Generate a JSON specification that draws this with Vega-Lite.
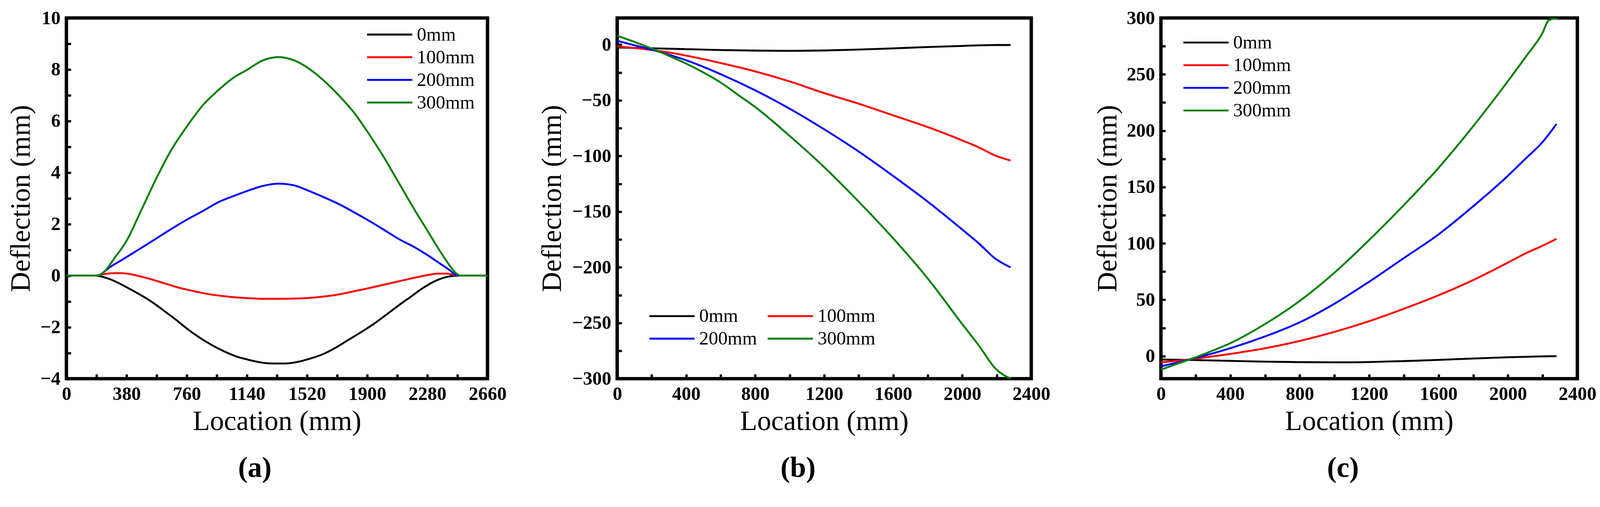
{
  "$schema": "https://vega.github.io/schema/vega-lite/v6.json",
  "autosize": {"type": "pad"},
  "padding": {"left": 13, "top": 17, "right": 10, "bottom": 10},
  "background": "white",
  "bounds": "flush",
  "align": "none",
  "spacing": 332,
  "datasets": {
    "a": [
      {"Location": 0, "Deflection": 0, "Load": "0mm"},
      {"Location": 100, "Deflection": 0, "Load": "0mm"},
      {"Location": 180, "Deflection": 0, "Load": "0mm"},
      {"Location": 230, "Deflection": -0.05, "Load": "0mm"},
      {"Location": 300, "Deflection": -0.2, "Load": "0mm"},
      {"Location": 380, "Deflection": -0.45, "Load": "0mm"},
      {"Location": 460, "Deflection": -0.72, "Load": "0mm"},
      {"Location": 540, "Deflection": -1.02, "Load": "0mm"},
      {"Location": 620, "Deflection": -1.38, "Load": "0mm"},
      {"Location": 700, "Deflection": -1.75, "Load": "0mm"},
      {"Location": 760, "Deflection": -2.05, "Load": "0mm"},
      {"Location": 840, "Deflection": -2.4, "Load": "0mm"},
      {"Location": 920, "Deflection": -2.7, "Load": "0mm"},
      {"Location": 1000, "Deflection": -2.95, "Load": "0mm"},
      {"Location": 1080, "Deflection": -3.15, "Load": "0mm"},
      {"Location": 1140, "Deflection": -3.25, "Load": "0mm"},
      {"Location": 1220, "Deflection": -3.36, "Load": "0mm"},
      {"Location": 1300, "Deflection": -3.41, "Load": "0mm"},
      {"Location": 1380, "Deflection": -3.41, "Load": "0mm"},
      {"Location": 1460, "Deflection": -3.35, "Load": "0mm"},
      {"Location": 1540, "Deflection": -3.22, "Load": "0mm"},
      {"Location": 1620, "Deflection": -3.05, "Load": "0mm"},
      {"Location": 1700, "Deflection": -2.8, "Load": "0mm"},
      {"Location": 1780, "Deflection": -2.5, "Load": "0mm"},
      {"Location": 1860, "Deflection": -2.2, "Load": "0mm"},
      {"Location": 1940, "Deflection": -1.88, "Load": "0mm"},
      {"Location": 2020, "Deflection": -1.52, "Load": "0mm"},
      {"Location": 2100, "Deflection": -1.15, "Load": "0mm"},
      {"Location": 2180, "Deflection": -0.8, "Load": "0mm"},
      {"Location": 2260, "Deflection": -0.45, "Load": "0mm"},
      {"Location": 2340, "Deflection": -0.18, "Load": "0mm"},
      {"Location": 2420, "Deflection": -0.03, "Load": "0mm"},
      {"Location": 2480, "Deflection": 0, "Load": "0mm"},
      {"Location": 2560, "Deflection": 0, "Load": "0mm"},
      {"Location": 2660, "Deflection": 0, "Load": "0mm"},
      {"Location": 0, "Deflection": 0, "Load": "100mm"},
      {"Location": 180, "Deflection": 0, "Load": "100mm"},
      {"Location": 220, "Deflection": 0.04, "Load": "100mm"},
      {"Location": 280, "Deflection": 0.09, "Load": "100mm"},
      {"Location": 340, "Deflection": 0.1, "Load": "100mm"},
      {"Location": 400, "Deflection": 0.06, "Load": "100mm"},
      {"Location": 460, "Deflection": -0.02, "Load": "100mm"},
      {"Location": 540, "Deflection": -0.15, "Load": "100mm"},
      {"Location": 620, "Deflection": -0.3, "Load": "100mm"},
      {"Location": 700, "Deflection": -0.45, "Load": "100mm"},
      {"Location": 760, "Deflection": -0.54, "Load": "100mm"},
      {"Location": 840, "Deflection": -0.65, "Load": "100mm"},
      {"Location": 920, "Deflection": -0.74, "Load": "100mm"},
      {"Location": 1000, "Deflection": -0.8, "Load": "100mm"},
      {"Location": 1080, "Deflection": -0.85, "Load": "100mm"},
      {"Location": 1140, "Deflection": -0.87, "Load": "100mm"},
      {"Location": 1240, "Deflection": -0.9, "Load": "100mm"},
      {"Location": 1340, "Deflection": -0.9, "Load": "100mm"},
      {"Location": 1440, "Deflection": -0.89, "Load": "100mm"},
      {"Location": 1520, "Deflection": -0.87, "Load": "100mm"},
      {"Location": 1600, "Deflection": -0.83, "Load": "100mm"},
      {"Location": 1700, "Deflection": -0.75, "Load": "100mm"},
      {"Location": 1800, "Deflection": -0.63, "Load": "100mm"},
      {"Location": 1900, "Deflection": -0.5, "Load": "100mm"},
      {"Location": 2000, "Deflection": -0.36, "Load": "100mm"},
      {"Location": 2100, "Deflection": -0.22, "Load": "100mm"},
      {"Location": 2200, "Deflection": -0.08, "Load": "100mm"},
      {"Location": 2280, "Deflection": 0.02, "Load": "100mm"},
      {"Location": 2350, "Deflection": 0.08, "Load": "100mm"},
      {"Location": 2400, "Deflection": 0.08, "Load": "100mm"},
      {"Location": 2440, "Deflection": 0.04, "Load": "100mm"},
      {"Location": 2480, "Deflection": 0, "Load": "100mm"},
      {"Location": 2660, "Deflection": 0, "Load": "100mm"},
      {"Location": 0, "Deflection": 0, "Load": "200mm"},
      {"Location": 190, "Deflection": 0, "Load": "200mm"},
      {"Location": 280, "Deflection": 0.35, "Load": "200mm"},
      {"Location": 380, "Deflection": 0.72, "Load": "200mm"},
      {"Location": 480, "Deflection": 1.1, "Load": "200mm"},
      {"Location": 570, "Deflection": 1.45, "Load": "200mm"},
      {"Location": 660, "Deflection": 1.8, "Load": "200mm"},
      {"Location": 760, "Deflection": 2.17, "Load": "200mm"},
      {"Location": 860, "Deflection": 2.5, "Load": "200mm"},
      {"Location": 960, "Deflection": 2.85, "Load": "200mm"},
      {"Location": 1060, "Deflection": 3.1, "Load": "200mm"},
      {"Location": 1140, "Deflection": 3.28, "Load": "200mm"},
      {"Location": 1240, "Deflection": 3.48, "Load": "200mm"},
      {"Location": 1340, "Deflection": 3.57, "Load": "200mm"},
      {"Location": 1440, "Deflection": 3.5, "Load": "200mm"},
      {"Location": 1520, "Deflection": 3.32, "Load": "200mm"},
      {"Location": 1620, "Deflection": 3.06, "Load": "200mm"},
      {"Location": 1720, "Deflection": 2.78, "Load": "200mm"},
      {"Location": 1820, "Deflection": 2.45, "Load": "200mm"},
      {"Location": 1900, "Deflection": 2.17, "Load": "200mm"},
      {"Location": 2000, "Deflection": 1.8, "Load": "200mm"},
      {"Location": 2100, "Deflection": 1.42, "Load": "200mm"},
      {"Location": 2200, "Deflection": 1.1, "Load": "200mm"},
      {"Location": 2280, "Deflection": 0.8, "Load": "200mm"},
      {"Location": 2360, "Deflection": 0.47, "Load": "200mm"},
      {"Location": 2420, "Deflection": 0.22, "Load": "200mm"},
      {"Location": 2470, "Deflection": 0, "Load": "200mm"},
      {"Location": 2660, "Deflection": 0, "Load": "200mm"},
      {"Location": 0, "Deflection": 0, "Load": "300mm"},
      {"Location": 190, "Deflection": 0, "Load": "300mm"},
      {"Location": 220, "Deflection": 0.05, "Load": "300mm"},
      {"Location": 260, "Deflection": 0.3, "Load": "300mm"},
      {"Location": 300, "Deflection": 0.65, "Load": "300mm"},
      {"Location": 380, "Deflection": 1.35, "Load": "300mm"},
      {"Location": 470, "Deflection": 2.5, "Load": "300mm"},
      {"Location": 570, "Deflection": 3.8, "Load": "300mm"},
      {"Location": 660, "Deflection": 4.85, "Load": "300mm"},
      {"Location": 760, "Deflection": 5.78, "Load": "300mm"},
      {"Location": 860, "Deflection": 6.6, "Load": "300mm"},
      {"Location": 960, "Deflection": 7.2, "Load": "300mm"},
      {"Location": 1060, "Deflection": 7.7, "Load": "300mm"},
      {"Location": 1140, "Deflection": 7.98, "Load": "300mm"},
      {"Location": 1240, "Deflection": 8.35, "Load": "300mm"},
      {"Location": 1340, "Deflection": 8.48, "Load": "300mm"},
      {"Location": 1440, "Deflection": 8.35, "Load": "300mm"},
      {"Location": 1540, "Deflection": 8.0, "Load": "300mm"},
      {"Location": 1620, "Deflection": 7.6, "Load": "300mm"},
      {"Location": 1720, "Deflection": 7.0, "Load": "300mm"},
      {"Location": 1820, "Deflection": 6.3, "Load": "300mm"},
      {"Location": 1900, "Deflection": 5.6, "Load": "300mm"},
      {"Location": 2000, "Deflection": 4.65, "Load": "300mm"},
      {"Location": 2100, "Deflection": 3.6, "Load": "300mm"},
      {"Location": 2200, "Deflection": 2.55, "Load": "300mm"},
      {"Location": 2280, "Deflection": 1.75, "Load": "300mm"},
      {"Location": 2360, "Deflection": 0.95, "Load": "300mm"},
      {"Location": 2420, "Deflection": 0.4, "Load": "300mm"},
      {"Location": 2460, "Deflection": 0.1, "Load": "300mm"},
      {"Location": 2490, "Deflection": 0, "Load": "300mm"},
      {"Location": 2660, "Deflection": 0, "Load": "300mm"}
    ],
    "b": [
      {"Location": 0, "Deflection": -2.5, "Load": "0mm"},
      {"Location": 200, "Deflection": -3.2, "Load": "0mm"},
      {"Location": 400, "Deflection": -4, "Load": "0mm"},
      {"Location": 600, "Deflection": -4.8, "Load": "0mm"},
      {"Location": 800, "Deflection": -5.3, "Load": "0mm"},
      {"Location": 1000, "Deflection": -5.5, "Load": "0mm"},
      {"Location": 1200, "Deflection": -5.2, "Load": "0mm"},
      {"Location": 1400, "Deflection": -4.4, "Load": "0mm"},
      {"Location": 1600, "Deflection": -3.3, "Load": "0mm"},
      {"Location": 1800, "Deflection": -2.1, "Load": "0mm"},
      {"Location": 2000, "Deflection": -1.1, "Load": "0mm"},
      {"Location": 2200, "Deflection": -0.3, "Load": "0mm"},
      {"Location": 2280, "Deflection": -0.3, "Load": "0mm"},
      {"Location": 0, "Deflection": -1.5, "Load": "100mm"},
      {"Location": 100, "Deflection": -3, "Load": "100mm"},
      {"Location": 200, "Deflection": -4.8, "Load": "100mm"},
      {"Location": 300, "Deflection": -7, "Load": "100mm"},
      {"Location": 400, "Deflection": -9.8, "Load": "100mm"},
      {"Location": 600, "Deflection": -16.5, "Load": "100mm"},
      {"Location": 800, "Deflection": -24, "Load": "100mm"},
      {"Location": 1000, "Deflection": -33, "Load": "100mm"},
      {"Location": 1200, "Deflection": -43.5, "Load": "100mm"},
      {"Location": 1400, "Deflection": -53, "Load": "100mm"},
      {"Location": 1600, "Deflection": -63.5, "Load": "100mm"},
      {"Location": 1800, "Deflection": -74, "Load": "100mm"},
      {"Location": 2000, "Deflection": -86, "Load": "100mm"},
      {"Location": 2100, "Deflection": -92.5, "Load": "100mm"},
      {"Location": 2190, "Deflection": -99.5, "Load": "100mm"},
      {"Location": 2280, "Deflection": -104, "Load": "100mm"},
      {"Location": 0, "Deflection": 3.5, "Load": "200mm"},
      {"Location": 100, "Deflection": -0.5, "Load": "200mm"},
      {"Location": 200, "Deflection": -4.5, "Load": "200mm"},
      {"Location": 300, "Deflection": -9, "Load": "200mm"},
      {"Location": 400, "Deflection": -14, "Load": "200mm"},
      {"Location": 600, "Deflection": -26.5, "Load": "200mm"},
      {"Location": 800, "Deflection": -41, "Load": "200mm"},
      {"Location": 1000, "Deflection": -57.5, "Load": "200mm"},
      {"Location": 1200, "Deflection": -76, "Load": "200mm"},
      {"Location": 1400, "Deflection": -96, "Load": "200mm"},
      {"Location": 1600, "Deflection": -118, "Load": "200mm"},
      {"Location": 1800, "Deflection": -141, "Load": "200mm"},
      {"Location": 2000, "Deflection": -166, "Load": "200mm"},
      {"Location": 2100, "Deflection": -179, "Load": "200mm"},
      {"Location": 2190, "Deflection": -192, "Load": "200mm"},
      {"Location": 2280, "Deflection": -200, "Load": "200mm"},
      {"Location": 0, "Deflection": 8, "Load": "300mm"},
      {"Location": 100, "Deflection": 2.5, "Load": "300mm"},
      {"Location": 200, "Deflection": -3.5, "Load": "300mm"},
      {"Location": 300, "Deflection": -10, "Load": "300mm"},
      {"Location": 400, "Deflection": -17, "Load": "300mm"},
      {"Location": 500, "Deflection": -25, "Load": "300mm"},
      {"Location": 600, "Deflection": -34, "Load": "300mm"},
      {"Location": 700, "Deflection": -45, "Load": "300mm"},
      {"Location": 800, "Deflection": -56, "Load": "300mm"},
      {"Location": 1000, "Deflection": -82, "Load": "300mm"},
      {"Location": 1200, "Deflection": -110, "Load": "300mm"},
      {"Location": 1400, "Deflection": -141, "Load": "300mm"},
      {"Location": 1600, "Deflection": -174, "Load": "300mm"},
      {"Location": 1800, "Deflection": -210, "Load": "300mm"},
      {"Location": 2000, "Deflection": -251, "Load": "300mm"},
      {"Location": 2100, "Deflection": -271, "Load": "300mm"},
      {"Location": 2190, "Deflection": -290.5, "Load": "300mm"},
      {"Location": 2280, "Deflection": -300, "Load": "300mm"}
    ],
    "c": [
      {"Location": 0, "Deflection": -3, "Load": "0mm"},
      {"Location": 200, "Deflection": -3.5, "Load": "0mm"},
      {"Location": 400, "Deflection": -4.2, "Load": "0mm"},
      {"Location": 600, "Deflection": -4.9, "Load": "0mm"},
      {"Location": 800, "Deflection": -5.3, "Load": "0mm"},
      {"Location": 1000, "Deflection": -5.5, "Load": "0mm"},
      {"Location": 1200, "Deflection": -5.2, "Load": "0mm"},
      {"Location": 1400, "Deflection": -4.4, "Load": "0mm"},
      {"Location": 1600, "Deflection": -3.3, "Load": "0mm"},
      {"Location": 1800, "Deflection": -2.1, "Load": "0mm"},
      {"Location": 2000, "Deflection": -1, "Load": "0mm"},
      {"Location": 2200, "Deflection": -0.2, "Load": "0mm"},
      {"Location": 2280, "Deflection": 0, "Load": "0mm"},
      {"Location": 0, "Deflection": -5.5, "Load": "100mm"},
      {"Location": 100, "Deflection": -4, "Load": "100mm"},
      {"Location": 200, "Deflection": -2.3, "Load": "100mm"},
      {"Location": 300, "Deflection": -0.2, "Load": "100mm"},
      {"Location": 400, "Deflection": 2, "Load": "100mm"},
      {"Location": 600, "Deflection": 7, "Load": "100mm"},
      {"Location": 800, "Deflection": 13.5, "Load": "100mm"},
      {"Location": 1000, "Deflection": 21.5, "Load": "100mm"},
      {"Location": 1200, "Deflection": 31, "Load": "100mm"},
      {"Location": 1400, "Deflection": 42, "Load": "100mm"},
      {"Location": 1600, "Deflection": 54, "Load": "100mm"},
      {"Location": 1800, "Deflection": 67.5, "Load": "100mm"},
      {"Location": 2000, "Deflection": 83, "Load": "100mm"},
      {"Location": 2100, "Deflection": 91, "Load": "100mm"},
      {"Location": 2200, "Deflection": 98, "Load": "100mm"},
      {"Location": 2280, "Deflection": 104, "Load": "100mm"},
      {"Location": 0, "Deflection": -9, "Load": "200mm"},
      {"Location": 100, "Deflection": -5.5, "Load": "200mm"},
      {"Location": 200, "Deflection": -1.5, "Load": "200mm"},
      {"Location": 300, "Deflection": 2.5, "Load": "200mm"},
      {"Location": 400, "Deflection": 7, "Load": "200mm"},
      {"Location": 600, "Deflection": 17.5, "Load": "200mm"},
      {"Location": 800, "Deflection": 30, "Load": "200mm"},
      {"Location": 1000, "Deflection": 46.5, "Load": "200mm"},
      {"Location": 1200, "Deflection": 66, "Load": "200mm"},
      {"Location": 1400, "Deflection": 87, "Load": "200mm"},
      {"Location": 1600, "Deflection": 108, "Load": "200mm"},
      {"Location": 1800, "Deflection": 133, "Load": "200mm"},
      {"Location": 2000, "Deflection": 160, "Load": "200mm"},
      {"Location": 2100, "Deflection": 175, "Load": "200mm"},
      {"Location": 2200, "Deflection": 190, "Load": "200mm"},
      {"Location": 2280, "Deflection": 206, "Load": "200mm"},
      {"Location": 0, "Deflection": -12, "Load": "300mm"},
      {"Location": 100, "Deflection": -6.5, "Load": "300mm"},
      {"Location": 200, "Deflection": -1, "Load": "300mm"},
      {"Location": 300, "Deflection": 5, "Load": "300mm"},
      {"Location": 400, "Deflection": 11.5, "Load": "300mm"},
      {"Location": 600, "Deflection": 28.5, "Load": "300mm"},
      {"Location": 800, "Deflection": 49, "Load": "300mm"},
      {"Location": 1000, "Deflection": 74, "Load": "300mm"},
      {"Location": 1200, "Deflection": 103, "Load": "300mm"},
      {"Location": 1400, "Deflection": 134, "Load": "300mm"},
      {"Location": 1600, "Deflection": 167, "Load": "300mm"},
      {"Location": 1800, "Deflection": 204, "Load": "300mm"},
      {"Location": 2000, "Deflection": 244, "Load": "300mm"},
      {"Location": 2100, "Deflection": 265, "Load": "300mm"},
      {"Location": 2200, "Deflection": 287, "Load": "300mm"},
      {"Location": 2235, "Deflection": 298, "Load": "300mm"},
      {"Location": 2290, "Deflection": 300, "Load": "300mm"}
    ]
  },
  "config": {
    "view": {"stroke": "black", "strokeWidth": 8.7},
    "axis": {
      "domain": false,
      "grid": false,
      "format": "d",
      "labelFont": "Liberation Serif",
      "labelFontWeight": "bold",
      "labelFontSize": 48.4,
      "labelColor": "black",
      "labelFlush": false,
      "labelOverlap": false,
      "titleFont": "Liberation Serif",
      "titleFontWeight": "normal",
      "titleFontSize": 71.6,
      "titleColor": "black",
      "tickColor": "black",
      "tickWidth": 5.8,
      "tickSize": -11.6
    },
    "axisX": {"labelPadding": 27.6, "titlePadding": 10.6},
    "axisY": {"labelPadding": 27.1},
    "line": {"strokeWidth": 4.8, "interpolate": "monotone"}
  },
  "resolve": {
    "scale": {"x": "independent", "y": "independent", "color": "independent"},
    "legend": {"color": "independent"}
  },
  "hconcat": [
    {
      "data": {"name": "a"},
      "width": 1078,
      "height": 923.5,
      "title": {"text": "(a)", "orient": "bottom", "anchor": "middle", "dx": -56.6, "offset": 48, "font": "Liberation Serif", "fontSize": 73.5, "fontWeight": "bold", "color": "black"},
      "mark": {"type": "line", "clip": true},
      "encoding": {
        "x": {
          "field": "Location", "type": "quantitative",
          "scale": {"domain": [0, 2660], "nice": false, "zero": false},
          "axis": {"title": "Location (mm)", "values": [0, 190, 380, 570, 760, 950, 1140, 1330, 1520, 1710, 1900, 2090, 2280, 2470, 2660], "labelExpr": "datum.value % 380 == 0 ? datum.label : ''"}
        },
        "y": {
          "field": "Deflection", "type": "quantitative",
          "scale": {"domain": [-4, 10], "nice": false, "zero": false},
          "axis": {"title": "Deflection (mm)", "titlePadding": 12.6, "values": [-4, -3, -2, -1, 0, 1, 2, 3, 4, 5, 6, 7, 8, 9, 10], "labelExpr": "datum.value % 2 == 0 ? datum.label : ''"}
        },
        "color": {
          "field": "Load", "type": "nominal",
          "scale": {"domain": ["0mm", "100mm", "200mm", "300mm"], "range": ["#000000", "#ff0000", "#0000ff", "#008000"]},
          "legend": {"title": null, "orient": "none", "legendX": 767.3, "legendY": 12.5, "padding": 0, "symbolType": "M-1,0H3.2", "symbolSize": 3036, "symbolStrokeWidth": 4.8, "labelOffset": 70, "rowPadding": 3, "labelFont": "Liberation Serif", "labelFontSize": 48.4, "labelColor": "black"}
        }
      }
    },
    {
      "data": {"name": "b"},
      "width": 1060,
      "height": 923.5,
      "title": {"text": "(b)", "orient": "bottom", "anchor": "middle", "dx": -67, "offset": 48, "font": "Liberation Serif", "fontSize": 73.5, "fontWeight": "bold", "color": "black"},
      "mark": {"type": "line", "clip": true},
      "encoding": {
        "x": {
          "field": "Location", "type": "quantitative",
          "scale": {"domain": [0, 2400], "nice": false, "zero": false},
          "axis": {"title": "Location (mm)", "values": [0, 200, 400, 600, 800, 1000, 1200, 1400, 1600, 1800, 2000, 2200, 2400], "labelExpr": "datum.value % 400 == 0 ? datum.label : ''"}
        },
        "y": {
          "field": "Deflection", "type": "quantitative",
          "scale": {"domain": [-300, 24], "nice": false, "zero": false},
          "axis": {"title": "Deflection (mm)", "titlePadding": 13.5, "values": [-300, -275, -250, -225, -200, -175, -150, -125, -100, -75, -50, -25, 0], "labelExpr": "datum.value % 50 == 0 ? datum.label : ''"}
        },
        "color": {
          "field": "Load", "type": "nominal",
          "scale": {"domain": ["0mm", "100mm", "200mm", "300mm"], "range": ["#000000", "#ff0000", "#0000ff", "#008000"]},
          "legend": {"title": null, "orient": "none", "legendX": 80, "legendY": 733, "columns": 2, "direction": "horizontal", "columnPadding": 17, "padding": 0, "symbolType": "M-1,0H3.2", "symbolSize": 3036, "symbolStrokeWidth": 4.8, "labelOffset": 70, "rowPadding": 3, "labelFont": "Liberation Serif", "labelFontSize": 48.4, "labelColor": "black"}
        }
      }
    },
    {
      "data": {"name": "c"},
      "width": 1066,
      "height": 923.5,
      "title": {"text": "(c)", "orient": "bottom", "anchor": "middle", "dx": -67, "offset": 48, "font": "Liberation Serif", "fontSize": 73.5, "fontWeight": "bold", "color": "black"},
      "mark": {"type": "line", "clip": true},
      "encoding": {
        "x": {
          "field": "Location", "type": "quantitative",
          "scale": {"domain": [0, 2400], "nice": false, "zero": false},
          "axis": {"title": "Location (mm)", "values": [0, 200, 400, 600, 800, 1000, 1200, 1400, 1600, 1800, 2000, 2200, 2400], "labelExpr": "datum.value % 400 == 0 ? datum.label : ''"}
        },
        "y": {
          "field": "Deflection", "type": "quantitative",
          "scale": {"domain": [-20, 300], "nice": false, "zero": false},
          "axis": {"title": "Deflection (mm)", "titlePadding": 11.6, "values": [0, 25, 50, 75, 100, 125, 150, 175, 200, 225, 250, 275, 300], "labelExpr": "datum.value % 50 == 0 ? datum.label : ''"}
        },
        "color": {
          "field": "Load", "type": "nominal",
          "scale": {"domain": ["0mm", "100mm", "200mm", "300mm"], "range": ["#000000", "#ff0000", "#0000ff", "#008000"]},
          "legend": {"title": null, "orient": "none", "legendX": 55, "legendY": 32.8, "padding": 0, "symbolType": "M-1,0H3.2", "symbolSize": 3036, "symbolStrokeWidth": 4.8, "labelOffset": 70, "rowPadding": 3, "labelFont": "Liberation Serif", "labelFontSize": 48.4, "labelColor": "black"}
        }
      }
    }
  ]
}
